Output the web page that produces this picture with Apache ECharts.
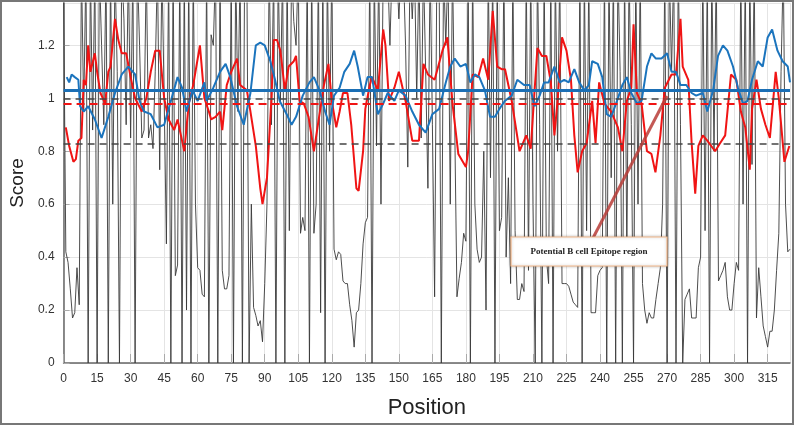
<!DOCTYPE html>
<html>
<head>
<meta charset="utf-8">
<script src="https://cdn.jsdelivr.net/npm/echarts@6/dist/echarts.min.js"></script>
<style>
html, body { margin: 0; padding: 0; background: #fff; }
#chart { width: 795px; height: 427px; }
</style>
</head>
<body>
<div id="chart"></div>
<script>
// x tick labels run 0..315 by 15, y 0..1.2 by 0.2
var xTicks = [0, 15, 30, 45, 60, 75, 90, 105, 120, 135, 150, 165, 180, 195, 210, 225, 240, 255, 270, 285, 300, 315];
var yTicks = [0, 0.2, 0.4, 0.6, 0.8, 1, 1.2];

// threshold lines
var blueMean = 1.034;
var redMean = 0.977;
var blackHigh = 1.0;
var blackLow = 0.83;

// red curve [position, score]
var redScore = [[1,0.89],[2.5,0.82],[4.4,0.76],[5.5,0.77],[6.6,0.84],[8,0.85],[9,1.07],[10,1.05],[11,1.2],[12,1.1],[14,1.17],[15,1.1],[16.5,1.02],[18.6,0.98],[20,1.1],[21,1.12],[23,1.3],[24.5,1.22],[26,1.17],[28,1.17],[30,1.08],[32,1.0],[35,0.95],[37,1.0],[39,1.1],[41,1.18],[43,1.18],[45,1.0],[47,0.92],[49.5,0.88],[51,0.92],[52.5,0.86],[54,0.8],[56,0.98],[58,1.05],[59,1.1],[61,1.2],[63,1.0],[65,0.95],[66,0.92],[68,0.93],[70,0.95],[71,0.88],[73,1.05],[75,1.1],[77.6,1.15],[79,1.05],[82,1.03],[83.6,0.95],[86,0.82],[88,0.66],[89,0.6],[91,0.7],[93,1.0],[94,1.22],[95.5,1.22],[97,1.18],[99,1.03],[100.7,1.12],[103,1.14],[104,1.16],[105.6,0.99],[107.5,0.98],[109.6,0.93],[112,0.8],[114.5,0.94],[116.5,1.05],[118.5,1.13],[120,0.99],[122,0.89],[123.5,0.95],[125,1.02],[127,1.02],[128.7,0.9],[131,0.66],[132,0.65],[134,0.8],[135,0.96],[137,1.05],[138,1.08],[140.6,1.03],[143,1.26],[144,1.2],[145.6,0.99],[148,1.04],[150,1.1],[153,0.99],[156,0.84],[159,0.84],[161,1.13],[163,1.09],[166,1.07],[169.5,1.18],[171.7,1.23],[174,0.98],[176.6,0.79],[180,0.74],[181,0.8],[183,1.09],[185.5,1.08],[187.7,1.15],[190,1.07],[192,1.33],[194,1.12],[196,1.11],[197.5,1.11],[200.5,0.99],[204,0.8],[207,0.86],[209,0.81],[212,1.19],[214,1.16],[216,1.16],[218,1.06],[219.6,0.86],[221,0.99],[223,1.23],[225,1.18],[227,1.07],[228.5,0.86],[230,0.72],[232,0.8],[234,0.83],[236.5,0.99],[238,0.83],[239.6,1.06],[242,0.98],[245,0.95],[248,0.89],[250,0.8],[252,0.99],[254,1.04],[255,1.28],[256.5,1.02],[258.6,0.98],[261,0.8],[263,0.79],[264.8,0.72],[267,0.86],[269,1.04],[272,1.09],[274,1.09],[276,1.3],[277,1.12],[279.5,1.07],[281,0.83],[282.6,0.64],[284,0.82],[286,0.86],[288,0.84],[291.5,0.8],[293.7,0.83],[296,0.86],[298.6,1.09],[301,1.07],[303,0.95],[305,0.89],[307,0.73],[308,0.96],[310,1.07],[312,0.96],[314,0.9],[316,0.85],[318.6,1.1],[320,1.0],[322.5,0.76],[324.7,0.82]];

// blue curve [position, score]
var blueScore = [[1.4,1.08],[2.5,1.06],[3.6,1.09],[5,1.08],[6.6,1.07],[7.4,0.97],[9,0.95],[11,0.97],[14,0.92],[17,0.85],[20,0.93],[23,1.02],[26,1.09],[29,1.12],[32,1.09],[34,0.99],[36,0.95],[39,0.94],[42,0.89],[45,0.9],[48,0.99],[51,1.08],[53,1.04],[55,0.95],[57.7,1.03],[60,0.99],[63,1.06],[64,0.99],[67,1.04],[70,1.1],[72.5,1.13],[74.6,1.08],[77.6,0.97],[80.6,0.9],[83.6,1.02],[86,1.2],[88,1.21],[90,1.2],[92.5,1.14],[94.6,1.07],[96.7,0.99],[99.8,0.94],[102,0.9],[104,0.93],[107,1.01],[110,1.06],[112,1.08],[114.5,1.03],[117,0.95],[119,0.9],[121,1.01],[123.5,1.04],[125.6,1.1],[128,1.13],[130,1.18],[131.6,1.12],[134,1.01],[136,1.08],[138,1.08],[140.6,0.94],[143,0.98],[145,1.02],[148,0.99],[150,1.03],[153,1.01],[156,0.95],[159,0.9],[162,0.87],[165,0.94],[168,0.96],[171,1.06],[173,1.12],[175,1.15],[177.5,1.12],[180,1.13],[182,1.06],[184,1.09],[186,1.08],[188.5,1.03],[190.8,0.93],[193,0.93],[195,0.96],[197.4,0.99],[200.5,1.01],[203,1.07],[206,1.05],[208.5,1.05],[210.7,0.97],[213,1.01],[215,1.06],[217,1.06],[219.6,1.12],[222,1.06],[224,1.07],[226,1.06],[228.5,1.11],[230.7,1.06],[233,1.03],[235,1.05],[236.5,1.14],[239,1.13],[241,1.08],[243,0.94],[245,0.93],[247.6,0.99],[250,1.05],[252,1.08],[254,1.02],[256.5,0.98],[258.6,0.99],[261,1.12],[263,1.17],[265,1.15],[267.5,1.15],[270,1.17],[272,1.1],[274,1.1],[276,1.05],[278.6,1.05],[281,1.02],[283,1.01],[286,1.02],[288,0.95],[290.6,1.03],[292.8,1.16],[295,1.2],[297,1.18],[299.5,1.12],[301.7,1.04],[304,0.98],[306,0.99],[308,1.07],[310.6,1.14],[312.8,1.12],[315,1.23],[317,1.26],[319.4,1.18],[321.7,1.14],[324,1.12],[325,1.06]];

// black curve [position, score], values above the axis top get clipped
var blackScore = [[0,1.4],[1,0.42],[2,0.38],[3,0.28],[4,0.17],[5,0.19],[6,0.36],[7,0.22],[8,1.5],[9,0.95],[10,1.5],[11,0],[12,1.5],[13,0.88],[14,1.5],[15,0],[16,1.5],[17,1.2],[18,0.9],[19,1.5],[20,0],[21,1.5],[22,0.6],[23,1.5],[24,1.1],[25,0],[26,1.5],[27,1.3],[28,0.9],[29,1.5],[30,0.85],[31,1.5],[32,0],[33,1.5],[34,1.2],[35,0.85],[36,0.88],[37,1.5],[38,0.85],[39,0.9],[40,0.81],[41,1.1],[42,1.5],[43,0.73],[44,1.5],[45,1.0],[46,0.45],[47,1.5],[48,0],[49,1.5],[50,0.33],[51,0.37],[52,1.5],[53,0],[54,1.5],[55,0.2],[56,1.5],[57,0],[58,1.5],[59,0.6],[60,0.36],[61,0.35],[62,0.26],[63,0.25],[64,1.5],[65,0],[66,1.24],[67,1.2],[68,1.5],[69,0],[70,1.5],[71,0.35],[72,0.28],[73,0.28],[74,0.33],[75,1.5],[76,0],[77,1.5],[78,0.95],[79,1.5],[80,0],[81,1.5],[82,1.5],[83,0],[84,0.6],[85,0.21],[86,0.18],[87,0.14],[88,0.16],[89,0.08],[90,0.3],[91,0.6],[92,1.5],[93,0.9],[94,1.5],[95,0],[96,1.5],[97,0.98],[98,1.5],[99,0],[100,1.5],[101,0.5],[102,1.5],[103,1.29],[104,1.2],[105,1.5],[106,0.49],[107,0.55],[108,0.5],[109,1.5],[110,0],[111,1.5],[112,0.49],[113,0.6],[114,1.5],[115,0.19],[116,1.5],[117,0],[118,1.5],[119,0.8],[120,1.5],[121,0.43],[122,0.39],[123,0.42],[124,0.41],[125,0.31],[126,0.3],[127,0.3],[128,0.22],[129,0.16],[130,0.06],[131,0.19],[132,0.2],[133,0.3],[134,0.45],[135,0.53],[136,0.55],[137,1.5],[138,0],[139,1.5],[140,0.82],[141,1.5],[142,0.6],[143,1.5],[144,1.4],[145,1.5],[146,1.2],[147,1.5],[148,1.4],[149,1.5],[150,1.3],[151,1.5],[152,1.5],[153,1.2],[154,0.74],[155,1.5],[156,1.3],[157,1.5],[158,1.0],[159,1.5],[160,0.85],[161,1.5],[162,1.1],[163,0.66],[164,1.5],[165,0.9],[166,0.25],[167,1.5],[168,1.5],[169,0],[170,1.5],[171,1.2],[172,1.5],[173,0.6],[174,1.5],[175,0.9],[176,0.25],[177,0.32],[178,0.38],[179,0.49],[180,0.46],[181,1.5],[182,0],[183,1.5],[184,0.6],[185,0.43],[186,0.38],[187,0.4],[188,0.8],[189,0.2],[190,1.5],[191,0.7],[192,1.5],[193,0],[194,1.5],[195,0.5],[196,0.55],[197,1.5],[198,0.4],[199,0.7],[200,0.3],[201,1.5],[202,0.5],[203,0.24],[204,0.24],[205,0.3],[206,0.27],[207,1.5],[208,0.35],[209,1.5],[210,0.6],[211,0],[212,1.5],[213,0.9],[214,0],[215,1.5],[216,0.4],[217,0.3],[218,1.5],[219,0],[220,1.5],[221,0.8],[222,1.5],[223,0.3],[224,0.3],[225,0.3],[226,0.29],[227,0.26],[228,0.23],[229,0.22],[230,0.21],[231,1.5],[232,0],[233,1.5],[234,0.5],[235,1.5],[236,0.19],[237,0.19],[238,0.19],[239,0.33],[240,0.35],[241,0.36],[242,1.5],[243,0],[244,1.5],[245,0.7],[246,1.5],[247,0],[248,1.5],[249,1.1],[250,0],[251,1.5],[252,0.4],[253,1.5],[254,0.9],[255,0],[256,1.5],[257,0.6],[258,1.5],[259,0.3],[260,0.2],[261,0.15],[262,0.19],[263,0.17],[264,0.17],[265,0.24],[266,0.3],[267,0.36],[268,0.6],[269,1.5],[270,0],[271,1.5],[272,1.1],[273,1.5],[274,0],[275,1.5],[276,0.9],[277,0],[278,0.24],[279,0.26],[280,0.28],[281,0.17],[282,0.17],[283,0.17],[284,0.36],[285,0.4],[286,1.5],[287,0.5],[288,1.5],[289,0],[290,1.5],[291,0.8],[292,1.5],[293,0.31],[294,0.33],[295,0.35],[296,0.38],[297,0.25],[298,0.2],[299,0.2],[300,0.3],[301,0.38],[302,0.35],[303,1.5],[304,0.6],[305,1.5],[306,0],[307,1.5],[308,0.75],[309,1.5],[310,0.17],[311,0.36],[312,0.25],[313,0.14],[314,0.1],[315,0.06],[316,0.12],[317,0.12],[318,0.2],[319,0.35],[320,0.49],[321,1.1],[322,1.5],[323,0.6],[324,0.42],[325,0.43]];

var noteText = 'Potential B cell Epitope region';

var myChart = echarts.init(document.getElementById('chart'));

function hline(v, color, type, width) {
    return {
        silent: true,
        symbol: 'none',
        label: { show: false },
        lineStyle: { color: color, type: type, width: width },
        data: [{ yAxis: v }]
    };
}

myChart.setOption({
    animation: false,
    backgroundColor: '#fff',
    grid: { left: 55, right: 5, top: 3, bottom: 64 },
    xAxis: {
        type: 'value',
        min: 0,
        max: 325,
        interval: 15,
        name: 'Position',
        nameLocation: 'middle',
        nameGap: 34,
        nameTextStyle: { fontSize: 22, color: '#222', fontFamily: 'Liberation Sans' },
        axisLine: { show: true, onZero: false, lineStyle: { color: '#666', width: 1.5 } },
        axisTick: { show: true, inside: true, length: 9, lineStyle: { color: '#aaa' } },
        axisLabel: {
            color: '#333', fontSize: 12, fontFamily: 'Liberation Sans', margin: 10,
            showMaxLabel: false,
            formatter: function (v) { return xTicks.indexOf(v) >= 0 ? String(v) : ''; }
        },
        splitLine: { show: true, lineStyle: { color: '#e4e4e4' } }
    },
    yAxis: {
        type: 'value',
        min: 0,
        max: 1.36,
        interval: 0.2,
        name: 'Score',
        nameLocation: 'middle',
        nameGap: 30,
        nameTextStyle: { fontSize: 19, color: '#222', fontFamily: 'Liberation Sans' },
        axisLine: { show: true, lineStyle: { color: '#666', width: 1.5 } },
        axisTick: { show: true, inside: true, length: 6, lineStyle: { color: '#aaa' } },
        axisLabel: {
            color: '#333', fontSize: 12, fontFamily: 'Liberation Sans', margin: 9,
            showMaxLabel: false,
            formatter: function (v) {
                var r = Math.round(v * 10) / 10;
                return yTicks.indexOf(r) >= 0 && Math.abs(v - r) < 1e-6 ? String(r) : '';
            }
        },
        splitLine: { show: true, lineStyle: { color: '#e4e4e4' } }
    },
    series: [{
        type: 'line',
        data: blackScore,
        showSymbol: false,
        clip: true,
        lineStyle: { color: '#3a3a3a', width: 1, opacity: 0.9 },
        markLine: {
            silent: true,
            symbol: 'none',
            label: { show: false },
            lineStyle: { color: '#444', type: [7, 5], width: 1.5 },
            data: [{ yAxis: blackHigh }, { yAxis: blackLow }]
        }
    }, {
        type: 'line',
        data: redScore,
        showSymbol: false,
        clip: true,
        lineStyle: { color: '#f01414', width: 2 },
        markLine: hline(redMean, '#f01414', [8, 5], 2)
    }, {
        type: 'line',
        data: blueScore,
        showSymbol: false,
        clip: true,
        lineStyle: { color: '#1b74bd', width: 2 },
        markLine: hline(blueMean, '#1b6fb5', 'solid', 3)
    }],
    graphic: [{
        type: 'rect',
        z: 100,
        shape: { x: 1, y: 1, width: 792, height: 423 },
        style: { fill: 'none', stroke: '#777', lineWidth: 2 },
        silent: true
    }, {
        type: 'line',
        z: 100,
        shape: { x1: 593, y1: 238, x2: 667, y2: 96 },
        style: { stroke: 'rgba(185,60,55,0.85)', lineWidth: 3 },
        silent: true
    }, {
        type: 'rect',
        z: 101,
        shape: { x: 511, y: 237, width: 156, height: 29 },
        style: { fill: '#fff', stroke: '#f3b88a', lineWidth: 1.2, shadowBlur: 3, shadowColor: 'rgba(0,0,0,0.25)' },
        silent: true
    }, {
        type: 'text',
        z: 102,
        x: 589,
        y: 251.5,
        style: {
            text: noteText,
            fill: '#222',
            font: 'bold 9px "Liberation Serif", "DejaVu Serif", serif',
            textAlign: 'center',
            textVerticalAlign: 'middle'
        },
        silent: true
    }]
});
</script>
</body>
</html>
